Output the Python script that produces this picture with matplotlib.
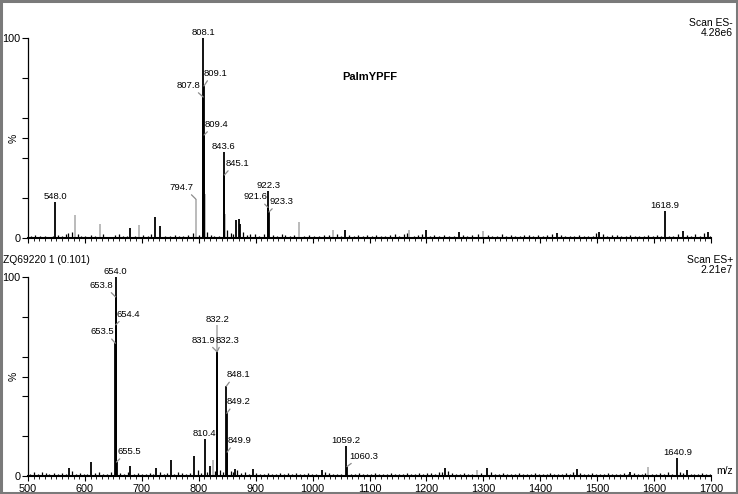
import matplotlib
matplotlib.use("Agg")
import matplotlib.pyplot as plt
from matplotlib.patches import Rectangle
from matplotlib.ticker import MultipleLocator

plt.rcParams['font.family'] = ['Liberation Sans', 'DejaVu Sans']

# ---- top scan (ES-) ----
top_black_mz = [548.0, 680.0, 723.7, 732.0, 807.8, 808.1, 809.1, 809.4, 843.6, 845.1,
                865.4, 870.0, 872.0, 921.6, 922.3, 923.3, 1057.0, 1199.0, 1258.0,
                1429.0, 1504.0, 1618.9, 1650.0, 1695.0]
top_black_int = [18.0, 5.0, 10.7, 6.0, 70.5, 100.0, 76.0, 51.5, 43.0, 31.5,
                 9.0, 9.5, 7.0, 15.3, 23.7, 13.0, 4.0, 4.0, 3.0,
                 2.5, 3.0, 13.7, 3.5, 3.0]
top_grey_mz = [582.6, 626.5, 695.6, 794.7, 811.0, 846.5, 976.0, 1036.0, 1170.0, 1300.0]
top_grey_int = [11.5, 7.0, 6.5, 19.5, 22.0, 12.0, 8.0, 4.0, 4.0, 3.5]
top_noise_mz = [505, 512, 521, 530, 538, 544, 553, 560, 566, 571, 577, 588, 593, 601, 610,
                617, 631, 638, 652, 660, 667, 674, 688, 702, 710, 716, 740, 750, 758, 766,
                773, 781, 790, 800, 815, 821, 827, 836, 850, 856, 861, 878, 884, 890, 898,
                905, 915, 930, 938, 946, 952, 960, 968, 985, 994, 1003, 1012, 1020, 1028,
                1043, 1050, 1064, 1072, 1080, 1088, 1095, 1104, 1112, 1120, 1128, 1136,
                1145, 1152, 1160, 1166, 1178, 1186, 1192, 1206, 1214, 1222, 1231, 1240,
                1248, 1265, 1272, 1280, 1290, 1308, 1316, 1324, 1332, 1340, 1348, 1356,
                1364, 1372, 1380, 1388, 1396, 1404, 1412, 1420, 1436, 1444, 1452, 1460,
                1468, 1476, 1484, 1492, 1498, 1510, 1518, 1526, 1534, 1542, 1550, 1558,
                1566, 1574, 1582, 1590, 1598, 1606, 1612, 1626, 1634, 1642, 1658, 1664,
                1672, 1680, 1688, 1698]
top_noise_int = [1.0, 1.5, 0.8, 1.2, 0.6, 1.0, 1.4, 0.9, 2.0, 2.5, 3.0, 2.0, 1.2, 0.8, 1.5,
                 1.0, 1.8, 0.7, 1.3, 2.2, 0.9, 1.1, 0.8, 1.5, 1.0, 2.0, 1.2, 0.9, 1.5, 1.0,
                 0.8, 1.3, 2.5, 1.5, 3.0, 1.5, 1.0, 1.2, 4.0, 2.5, 2.0, 3.0, 1.5, 2.0, 1.8,
                 1.2, 2.0, 1.5, 1.0, 2.0, 1.6, 1.0, 1.4, 1.0, 1.5, 1.2, 1.0, 1.4, 1.6,
                 1.8, 1.2, 1.5, 1.0, 1.6, 1.2, 1.4, 1.0, 1.6, 1.2, 1.0, 1.5,
                 1.8, 1.0, 2.0, 2.5, 1.2, 1.5, 2.0, 1.0, 1.3, 1.0, 1.5, 1.2,
                 1.0, 1.4, 1.0, 1.3, 2.0, 1.5, 1.0, 1.2, 1.8, 1.0, 1.4, 1.2,
                 1.0, 1.5, 1.6, 1.0, 1.3, 1.0, 1.5, 1.8, 1.5, 1.0, 1.2, 1.0,
                 1.4, 1.0, 1.2, 1.0, 2.5, 2.0, 1.0, 1.3, 1.5, 1.0, 1.2, 1.6,
                 1.0, 1.2, 1.0, 1.5, 1.0, 1.3, 1.0, 1.2, 1.0, 2.0, 1.5, 1.2,
                 2.0, 1.0, 2.5, 1.0]
top_labels = ['808.1', '809.1', '807.8', '809.4', '843.6', '845.1', '794.7',
              '548.0', '922.3', '921.6', '923.3', '1618.9']
top_label_int = [100.0, 76.0, 70.5, 51.5, 43.0, 31.5, 19.5, 18.0, 23.7, 15.3, 13.0, 13.7]

# ---- bottom scan (ES+) ----
bot_black_mz = [571.5, 610.0, 653.5, 653.8, 654.0, 654.4, 655.5, 680.0, 725.0, 750.7,
                791.6, 810.4, 819.8, 831.9, 832.3, 848.1, 849.2, 849.9, 863.6, 894.7,
                1016.0, 1059.2, 1060.3, 1232.6, 1306.0, 1464.0, 1558.0, 1640.9, 1657.0]
bot_black_int = [4.0, 7.0, 66.7, 90.0, 100.0, 76.0, 7.0, 5.0, 4.0, 8.0,
                 10.0, 18.6, 5.0, 62.5, 62.5, 45.0, 31.5, 12.0, 3.5, 3.5,
                 3.0, 15.0, 4.7, 4.0, 4.0, 3.5, 2.0, 9.0, 3.0]
bot_grey_mz = [655.0, 825.6, 832.2, 1289.0, 1590.0]
bot_grey_int = [35.0, 8.0, 76.0, 3.0, 4.5]
bot_noise_mz = [504, 510, 517, 524, 531, 537, 545, 552, 559, 566, 578, 585, 592, 598, 604,
                617, 624, 631, 638, 645, 662, 669, 676, 686, 693, 700, 707, 714, 720, 732,
                739, 745, 757, 764, 771, 778, 785, 798, 804, 815, 828, 838, 842, 856, 861,
                868, 874, 881, 888, 901, 908, 915, 922, 929, 936, 943, 950, 957, 964, 971,
                978, 985, 992, 999, 1006, 1022, 1029, 1036, 1043, 1050, 1068, 1075, 1082,
                1089, 1096, 1103, 1110, 1117, 1124, 1131, 1138, 1145, 1152, 1159, 1166,
                1173, 1180, 1187, 1194, 1201, 1208, 1215, 1222, 1228, 1238, 1245, 1252,
                1259, 1266, 1273, 1280, 1296, 1313, 1320, 1327, 1334, 1341, 1348, 1355,
                1362, 1369, 1376, 1383, 1390, 1397, 1404, 1411, 1418, 1425, 1432, 1439,
                1446, 1453, 1458, 1470, 1477, 1484, 1491, 1498, 1505, 1512, 1519, 1526,
                1533, 1540, 1547, 1554, 1564, 1571, 1578, 1584, 1597, 1604, 1611, 1618,
                1625, 1632, 1646, 1651, 1664, 1671, 1678, 1685, 1692, 1699]
bot_noise_int = [1.2, 1.8, 1.0, 2.0, 1.5, 1.0, 1.3, 0.8, 1.6, 1.2, 2.5, 1.0, 1.5, 1.2, 1.0,
                 1.5, 2.0, 1.2, 1.0, 1.8, 1.5, 1.2, 2.0, 1.0, 1.5, 1.2, 1.0, 1.6, 1.2, 2.0,
                 1.0, 1.5, 1.2, 2.0, 1.5, 1.0, 1.6, 3.0, 1.5, 2.0, 2.5, 3.0, 2.0, 2.5, 2.0,
                 2.8, 1.5, 2.0, 1.2, 1.5, 1.2, 1.0, 1.4, 1.0, 1.2, 1.5, 1.0, 1.3, 1.0, 1.4,
                 1.2, 1.0, 1.5, 1.2, 1.0, 2.0, 1.5, 1.0, 1.2, 1.0, 1.2, 1.0, 1.4,
                 1.0, 1.2, 1.0, 1.3, 1.0, 1.2, 1.0, 1.4, 1.0, 1.2, 1.0, 1.3,
                 1.0, 1.2, 1.5, 1.0, 1.3, 1.6, 1.0, 1.8, 2.0, 2.5, 1.5, 1.2,
                 1.0, 1.3, 1.0, 1.2, 1.5, 1.8, 1.2, 1.0, 1.3, 1.0, 1.2, 1.0,
                 1.3, 1.0, 1.2, 1.0, 1.3, 1.0, 1.2, 1.0, 1.3, 1.0, 1.2, 1.0,
                 1.3, 1.0, 2.0, 1.5, 1.2, 1.0, 1.3, 1.0, 1.2, 1.0, 1.3, 1.0,
                 1.2, 1.0, 1.3, 1.0, 1.5, 1.0, 1.2, 1.3, 1.0, 1.2, 1.5, 1.0,
                 1.8, 1.2, 2.0, 1.5, 1.0, 1.2, 1.0, 1.3, 1.0, 1.2]
bot_labels = ['654.0', '653.8', '654.4', '653.5', '655.5', '832.2', '831.9', '832.3',
              '848.1', '849.2', '849.9', '810.4', '1059.2', '1060.3', '1640.9']
bot_label_int = [100.0, 90.0, 76.0, 66.7, 7.0, 76.0, 62.5, 62.5, 45.0, 31.5, 12.0,
                 18.6, 15.0, 4.7, 9.0]

x_ticks = [500, 600, 700, 800, 900, 1000, 1100, 1200, 1300, 1400, 1500, 1600, 1700]

# label placement: side ('c' above, 'l' text right of leader, 'r' text left of leader), dx, dy in px
top_place = {'808.1': ('c', 0, 1), '809.1': ('l', 0, 8), '807.8': ('r', -3, 7),
             '809.4': ('l', 1, 6), '843.6': ('c', 0, 1), '845.1': ('l', 1, 7),
             '794.7': ('r', -2, 7), '548.0': ('c', 0, 1), '922.3': ('c', 0, 1),
             '921.6': ('r', -1, 6), '923.3': ('l', 1, 6), '1618.9': ('c', 0, 1)}
bot_place = {'654.0': ('c', 0, 1), '653.8': ('r', -2, 7), '654.4': ('l', 1, 6),
             '653.5': ('r', -1, 7), '655.5': ('l', 1, 6), '832.2': ('c', 0, 1),
             '831.9': ('r', -2, 7), '832.3': ('l', -2, 7), '848.1': ('l', 0, 7),
             '849.2': ('l', 0, 7), '849.9': ('l', 0, 7), '810.4': ('c', 0, 1),
             '1059.2': ('c', 0, 1), '1060.3': ('l', 2, 6), '1640.9': ('c', 0, 1)}

W, H = 738, 494
BLACK = '#000000'
GREY = '#a8a8a8'
LEADER = '#8c8c8c'


def fx(px):
    return px / W


def fy(py):
    return 1 - py / H


def style_axis(ax, show_xlabels):
    ax.set_xlim(500, 1700)
    ax.set_ylim(0, 100)
    for s in ['top', 'right']:
        ax.spines[s].set_visible(False)
    ax.spines['left'].set_linewidth(0.9)
    ax.spines['bottom'].set_linewidth(1.5)
    ax.set_xticks(x_ticks)
    ax.xaxis.set_minor_locator(MultipleLocator(10))
    ax.set_yticks([0, 20, 40, 50, 60, 80, 100])
    ax.set_yticklabels(['0', '', '', '', '', '', '100'], fontsize=7.8)
    ax.tick_params(axis='y', direction='out', length=4.3, width=0.8, pad=1)
    ax.tick_params(axis='x', which='major', direction='out', length=3.5, width=0.8, pad=2,
                   labelsize=7.8, labelbottom=show_xlabels)
    ax.tick_params(axis='x', which='minor', direction='out', length=2, width=0.6)
    ax.set_ylabel('%', fontsize=7.5)
    ax.yaxis.set_label_coords(-0.013, 0.5)
    ax.patch.set_alpha(0)


def draw_spectrum(ax, noise_mz, noise_int, black_mz, black_int, grey_mz, grey_int):
    ax.vlines(noise_mz, 0, noise_int, colors=BLACK, linewidth=0.9)
    ax.vlines(grey_mz, 0, grey_int, colors=GREY, linewidth=1.1)
    ax.vlines(black_mz, 0, black_int, colors=BLACK, linewidth=1.3)


def draw_labels(ax, labels, intensities, place):
    for lab, inten in zip(labels, intensities):
        side, dx, dy = place[lab]
        mz = float(lab)
        if side == 'c':
            ax.annotate(lab, (mz, inten), xytext=(dx, dy), textcoords='offset pixels',
                        ha='center', va='bottom', fontsize=6.8, annotation_clip=False)
        else:
            ha = 'left' if side == 'l' else 'right'
            rel = (0.25, 0.1) if side == 'l' else (0.75, 0.1)
            ax.annotate(lab, (mz, inten), xytext=(dx, dy), textcoords='offset pixels',
                        ha=ha, va='bottom', fontsize=6.8, annotation_clip=False,
                        arrowprops=dict(arrowstyle='-', color=LEADER, lw=0.9,
                                        shrinkA=0, shrinkB=0, relpos=rel))


fig = plt.figure(figsize=(W / 100, H / 100), dpi=100)
fig.patch.set_facecolor('white')

ax_top = fig.add_axes([fx(28), fy(238), 683 / W, 200 / H])
ax_bot = fig.add_axes([fx(28), fy(476), 683 / W, 199 / H])

draw_spectrum(ax_top, top_noise_mz, top_noise_int, top_black_mz, top_black_int,
              top_grey_mz, top_grey_int)
draw_spectrum(ax_bot, bot_noise_mz, bot_noise_int, bot_black_mz, bot_black_int,
              bot_grey_mz, bot_grey_int)
style_axis(ax_top, False)
style_axis(ax_bot, True)
draw_labels(ax_top, top_labels, top_label_int, top_place)
draw_labels(ax_bot, bot_labels, bot_label_int, bot_place)

# header texts
fig.text(fx(733), fy(23), 'Scan ES-', ha='right', va='center', fontsize=7.5)
fig.text(fx(733), fy(33), '4.28e6', ha='right', va='center', fontsize=7.5)
fig.text(fx(370), fy(77), 'PalmYPFF', ha='center', va='center', fontsize=8, fontweight='bold')
fig.text(fx(3), fy(260), 'ZQ69220 1 (0.101)', ha='left', va='center', fontsize=7.4)
fig.text(fx(733), fy(260), 'Scan ES+', ha='right', va='center', fontsize=7.5)
fig.text(fx(733), fy(270), '2.21e7', ha='right', va='center', fontsize=7.5)
fig.text(fx(716), fy(471), 'm/z', ha='left', va='center', fontsize=7.5)

# outer frame
fig.patches.append(Rectangle((0.001, 0.002), 0.997, 0.996, transform=fig.transFigure,
                             fill=False, edgecolor='#7a7a7a', linewidth=2.2))

fig.savefig('out.png', dpi=100)
